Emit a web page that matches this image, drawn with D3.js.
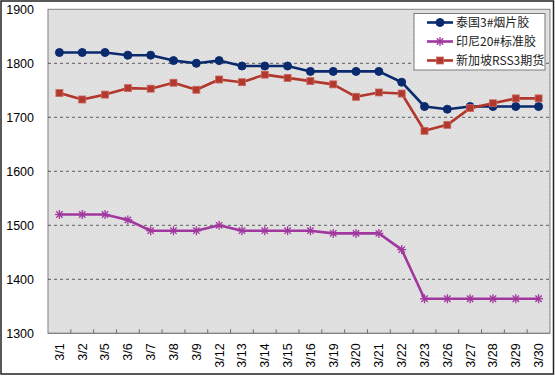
<!DOCTYPE html>
<html>
<head>
<meta charset="utf-8">
<script src="https://cdn.jsdelivr.net/npm/d3@7"></script>
<style>
  body { margin: 0; background: #fff; }
  svg { display: block; font-family: "Liberation Sans", Arial, sans-serif; }
</style>
</head>
<body>
<svg id="chart" width="555" height="376"></svg>
<script>
const dates = ["3/1","3/2","3/5","3/6","3/7","3/8","3/9","3/12","3/13","3/14","3/15",
               "3/16","3/19","3/20","3/21","3/22","3/23","3/26","3/27","3/28","3/29","3/30"];
const thai = [1820,1820,1820,1815,1815,1805,1800,1805,1795,1795,1795,
              1785,1785,1785,1785,1765,1720,1715,1720,1720,1720,1720];
const indo = [1520,1520,1520,1510,1490,1490,1490,1500,1490,1490,1490,
              1490,1485,1485,1485,1455,1364,1364,1364,1364,1364,1364];
const sgx = [1745,1733,1742,1754,1753,1764,1751,1770,1765,1779,1773,
             1767,1761,1738,1746,1744,1675,1686,1717,1726,1735,1735];
const yTicks = [1300,1400,1500,1600,1700,1800,1900];

const series = [
    {name: "泰国3#烟片胶", values: thai, color: "#0a2a6e", marker: "circle"},
    {name: "印尼20#标准胶", values: indo, color: "#a1389f", marker: "star"},
    {name: "新加坡RSS3期货", values: sgx, color: "#b2372c", marker: "square"}
];

const svg = d3.select("#chart");
const plot = {left: 48, right: 550, top: 9.3, bottom: 333.3};

const x = d3.scaleBand().domain(dates).range([plot.left, plot.right]).padding(0);
const y = d3.scaleLinear().domain([1300, 1900]).range([plot.bottom, plot.top]);

// outer frame
svg.append("rect")
    .attr("x", 1).attr("y", 1).attr("width", 552.5).attr("height", 373)
    .attr("fill", "#fff").attr("stroke", "#222").attr("stroke-width", 1.5);

// plot background with dotted texture
const defs = svg.append("defs");
const pat = defs.append("pattern")
    .attr("id", "dots").attr("width", 4).attr("height", 4)
    .attr("patternUnits", "userSpaceOnUse");
pat.append("rect").attr("width", 4).attr("height", 4).attr("fill", "#dedede");
pat.append("rect").attr("x", 0).attr("y", 0).attr("width", 1).attr("height", 1).attr("fill", "#ebebeb");
pat.append("rect").attr("x", 2).attr("y", 2).attr("width", 1).attr("height", 1).attr("fill", "#ebebeb");

svg.append("rect")
    .attr("x", plot.left).attr("y", plot.top)
    .attr("width", plot.right - plot.left).attr("height", plot.bottom - plot.top)
    .attr("fill", "url(#dots)").attr("stroke", "#808080").attr("stroke-width", 1);

// dashed grid
svg.append("g")
    .selectAll("line")
    .data(yTicks.filter(d => d > 1300 && d < 1900))
    .join("line")
    .attr("x1", plot.left).attr("x2", plot.right)
    .attr("y1", d => y(d)).attr("y2", d => y(d))
    .attr("stroke", "#3a3a3a").attr("stroke-width", 0.8)
    .attr("stroke-dasharray", "3,3");

// y axis labels
const yAxis = svg.append("g")
    .attr("transform", `translate(${plot.left},0)`)
    .call(d3.axisLeft(y).tickValues(yTicks).tickSize(0).tickPadding(14).tickFormat(d3.format("d")));
yAxis.select(".domain").remove();
yAxis.selectAll("text").attr("font-size", 12.5).attr("fill", "#000")
    .attr("font-family", "'Liberation Sans', Arial, sans-serif");

// x axis line and inside ticks at category boundaries
svg.append("line")
    .attr("x1", plot.left).attr("x2", plot.right).attr("y1", plot.bottom).attr("y2", plot.bottom)
    .attr("stroke", "#808080");
svg.append("g")
    .selectAll("line")
    .data(dates.slice(1))
    .join("line")
    .attr("x1", d => x(d)).attr("x2", d => x(d))
    .attr("y1", plot.bottom - 4).attr("y2", plot.bottom)
    .attr("stroke", "#707070");

const xAxis = svg.append("g")
    .attr("transform", `translate(0,${plot.bottom})`)
    .call(d3.axisBottom(x).tickSize(0).tickPadding(0));
xAxis.select(".domain").remove();
xAxis.selectAll("text")
    .attr("font-size", 12.5).attr("fill", "#000")
    .attr("font-family", "'Liberation Sans', Arial, sans-serif")
    .attr("text-anchor", "end")
    .attr("transform", "translate(0,10) rotate(-90)")
    .attr("x", 0).attr("y", 0).attr("dy", "0.35em");

// markers
function drawMarker(g, type, color, cx, cy) {
    if (type === "circle") {
        g.append("circle").attr("cx", cx).attr("cy", cy).attr("r", 4)
            .attr("fill", color).attr("stroke", color);
    } else if (type === "square") {
        g.append("rect").attr("x", cx - 3.5).attr("y", cy - 3.5)
            .attr("width", 7).attr("height", 7)
            .attr("fill", color).attr("stroke", "#c96a62").attr("stroke-width", 0.8);
    } else {
        const r = 4.5;
        [0, 45, 90, 135].forEach(a => {
            const rad = a * Math.PI / 180;
            g.append("line")
                .attr("x1", cx - r * Math.cos(rad)).attr("y1", cy - r * Math.sin(rad))
                .attr("x2", cx + r * Math.cos(rad)).attr("y2", cy + r * Math.sin(rad))
                .attr("stroke", color).attr("stroke-width", 1.3);
        });
    }
}

const line = d3.line()
    .x((d, i) => x(dates[i]) + x.bandwidth() / 2)
    .y(d => y(d));

series.forEach(s => {
    const g = svg.append("g");
    g.append("path")
        .datum(s.values)
        .attr("fill", "none")
        .attr("stroke", s.color)
        .attr("stroke-width", 2.6)
        .attr("stroke-linejoin", "round")
        .attr("d", line);
    s.values.forEach((v, i) => drawMarker(g, s.marker, s.color, x(dates[i]) + x.bandwidth() / 2, y(v)));
});

// legend
const lg = svg.append("g");
lg.append("rect")
    .attr("x", 414).attr("y", 13.5).attr("width", 131).attr("height", 56.5)
    .attr("fill", "#fff").attr("stroke", "#7a7a7a").attr("stroke-width", 1);
series.forEach((s, i) => {
    const ly = 22.5 + i * 19;
    lg.append("line")
        .attr("x1", 427).attr("x2", 453).attr("y1", ly).attr("y2", ly)
        .attr("stroke", s.color).attr("stroke-width", 2.6);
    drawMarker(lg, s.marker, s.color, 440, ly);
    lg.append("text")
        .attr("x", 456).attr("y", ly).attr("dy", "0.36em")
        .attr("font-size", 12)
        .attr("font-family", "'Noto Sans CJK SC', sans-serif")
        .attr("fill", "#222")
        .text(s.name);
});
</script>
</body>
</html>
